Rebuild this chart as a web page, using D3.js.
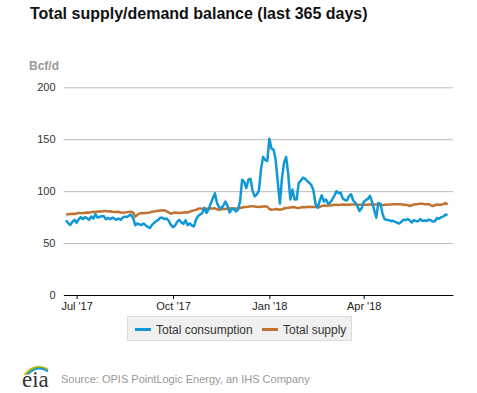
<!DOCTYPE html>
<html>
<head>
<meta charset="utf-8">
<script src="https://cdn.jsdelivr.net/npm/d3@7"></script>
<style>
	body { margin: 0; background: #fff; }
	svg { display: block; font-family: Arial, "Liberation Sans", sans-serif; }
</style>
</head>
<body>
<svg id="svg-port" width="477" height="393"></svg>
<script>
// first day of data and spacing between readings (days)
var startDay = '2017-06-21';
var stepDays = 2;

var seriesNames = ['Total consumption', 'Total supply'];
var seriesColors = ['#0f97d6', '#c07330'];

// Bcf/d, every other day
var consumption = [
	72, 69, 67.5, 70.5, 72.4, 69.5, 72.8, 75, 73, 75,
	74, 72.5, 75.6, 73.5, 77.9, 74.5, 75.3, 75.8, 76, 73,
	74.3, 73, 74.5, 73.5, 72.4, 73.7, 72.4, 74.5, 75.5, 75,
	76.6, 77.3, 74, 67.2, 69, 67.9, 67.5, 68.8, 67, 65.5,
	64.5, 67.5, 69.5, 71, 72.4, 74.5, 74.3, 73, 73.7, 71.2,
	67.5, 65.3, 67, 70.5, 72.4, 69.8, 68.5, 72, 67.2, 69,
	67, 66, 72.5, 76, 77.5, 79, 84, 79, 82.5, 88,
	93, 98, 88.5, 84.5, 83.5, 86, 90, 86, 79.5, 82.5,
	83, 80.5, 82.1, 90, 111, 109, 103, 111, 112, 100,
	95, 97, 100.5, 121, 133, 130, 129, 150.5, 141, 140,
	130, 108.5, 88, 112, 127.5, 133, 116, 92, 101.6, 92,
	92, 108, 110, 113, 112, 110, 108, 106, 101, 88,
	84, 90.5, 96, 90, 92, 88, 89, 92, 95.5, 100,
	98, 98.4, 93, 91.5, 91, 95.2, 97, 91, 88.8, 85.6,
	80.8, 83.5, 89.5, 91.3, 92.5, 95.5, 89.5, 82, 74.5, 88.5,
	88, 78, 73, 72.5, 72.1, 71.2, 71.5, 70.5, 69.6, 68.8,
	70.5, 72.5, 72.1, 73.2, 71.8, 69.8, 72.1, 71, 71, 73.2,
	71.3, 71.8, 71.2, 72.6, 72, 70.8, 71, 74.2, 73.4, 75,
	75.5, 77.5, 76.6
];

var supply = [
	77.5, 77.8, 78, 78.2, 78, 78.5, 78.9, 79, 78.8, 79.3,
	79.5, 79.2, 79.8, 80.2, 80, 80.4, 80.5, 80.3, 80.8, 80.8,
	80.5, 80.6, 80.2, 80, 79.9, 80.1, 79.5, 79.3, 79.5, 79.8,
	80, 80.2, 79.5, 75.5, 77.3, 78.5, 78.9, 78.8, 79, 79.2,
	79.5, 80.2, 80.4, 81, 81.2, 81.5, 81.3, 81.6, 80.4, 79.5,
	78.2, 79, 79.5, 79.2, 78.9, 79.2, 79.5, 79.6, 79.4, 80.2,
	81, 81.5, 82, 83, 83.4, 83, 82.8, 83, 83.4, 83.2,
	83.4, 83.5, 82.5, 82.1, 82.5, 82.8, 82.8, 83.2, 83.4, 83.6,
	83.4, 83.3, 83.4, 83.8, 84.3, 84.7, 84.8, 85, 85.4, 85.4,
	85.2, 84.9, 84.7, 85, 85.3, 85.4, 85, 82.8, 82.1, 82.3,
	82.8, 82.5, 82.1, 82.6, 83.3, 83.8, 84, 84.3, 84.7, 84.5,
	84, 83.8, 84.2, 84.7, 84.5, 84.7, 84.9, 84.7, 84.8, 84.9,
	84.6, 84.8, 85.6, 86.2, 86, 86.3, 86.2, 86.5, 86.8, 86.9,
	86.7, 87, 87.2, 87, 86.8, 86.9, 87.1, 87.2, 87.2, 87,
	86.8, 86.9, 87, 86.9, 86.9, 87.1, 87.2, 87.1, 87.2, 86.9,
	86.5, 86.4, 86.9, 87, 87.2, 87.1, 87.3, 87.5, 87.4, 87.5,
	87.3, 87, 86.9, 86.5, 85.6, 86.4, 87.2, 87.5, 87.6, 87.8,
	87.8, 87.5, 87.4, 87.5, 86.5, 85.6, 86.4, 87.2, 87, 86.9,
	87.5, 88.5, 86.9
];

var yTicks = [0, 50, 100, 150, 200];
var xTicks = ['2017-07-01', '2017-10-01', '2018-01-01', '2018-04-01'];
var xDomain = ['2017-06-18T12:00', '2018-06-25T06:00'];

var parseDay = d3.utcParse('%Y-%m-%d');
var parseTime = d3.utcParse('%Y-%m-%dT%H:%M');

var svg = d3.select('#svg-port');
var plotLeft = 63.5, plotRight = 453, plotTop = 87.3, plotBottom = 295;

var x = d3.scaleUtc()
	.domain(xDomain.map(parseTime))
	.range([plotLeft, plotRight]);
var y = d3.scaleLinear()
	.domain([0, 200])
	.range([plotBottom, plotTop]);

var start = parseDay(startDay);
function toPoints(values) {
	return values.map(function (v, i) {
		return { date: d3.utcDay.offset(start, i * stepDays), value: v };
	});
}

svg.append('text')
	.attr('x', 30).attr('y', 19)
	.attr('font-size', 16).attr('font-weight', 'bold').attr('fill', '#111')
	.text('Total supply/demand balance (last 365 days)');

svg.append('text')
	.attr('x', 29).attr('y', 70)
	.attr('font-size', 12).attr('font-weight', 'bold').attr('fill', '#999')
	.text('Bcf/d');

// gridlines + y labels
var yAxis = d3.axisLeft(y)
	.tickValues(yTicks)
	.tickSize(-(plotRight - plotLeft))
	.tickPadding(8)
	.tickFormat(d3.format('d'));
var yg = svg.append('g')
	.attr('transform', 'translate(' + plotLeft + ',0)')
	.call(yAxis);
yg.select('.domain').remove();
yg.selectAll('.tick line').attr('stroke', '#bdbdbd');
yg.selectAll('.tick text')
	.attr('font-size', 11).attr('fill', '#333')
	.attr('font-family', 'Arial, "Liberation Sans", sans-serif');

// bottom axis
var xAxis = d3.axisBottom(x)
	.tickValues(xTicks.map(parseDay))
	.tickSize(4)
	.tickSizeOuter(0)
	.tickPadding(3)
	.tickFormat(d3.utcFormat("%b '%y"));
var xg = svg.append('g')
	.attr('transform', 'translate(0,' + plotBottom + ')')
	.call(xAxis);
xg.select('.domain').attr('stroke', '#000');
xg.selectAll('.tick line').attr('stroke', '#000');
xg.selectAll('.tick text')
	.attr('font-size', 11).attr('fill', '#222')
	.attr('font-family', 'Arial, "Liberation Sans", sans-serif');

var line = d3.line()
	.x(function (d) { return x(d.date); })
	.y(function (d) { return y(d.value); });

[supply, consumption].forEach(function (vals, k) {
	svg.append('path')
		.datum(toPoints(vals))
		.attr('fill', 'none')
		.attr('stroke', k === 0 ? seriesColors[1] : seriesColors[0])
		.attr('stroke-width', 2.5)
		.attr('stroke-linejoin', 'round')
		.attr('d', line);
});

// legend
var legend = svg.append('g');
legend.append('rect')
	.attr('x', 127.5).attr('y', 316.5)
	.attr('width', 224).attr('height', 24)
	.attr('fill', '#f0f0f0').attr('stroke', '#dcdcdc');
var legendX = [135, 262];
seriesNames.forEach(function (name, i) {
	legend.append('line')
		.attr('x1', legendX[i]).attr('x2', legendX[i] + 16)
		.attr('y1', 329.5).attr('y2', 329.5)
		.attr('stroke', seriesColors[i]).attr('stroke-width', 3);
	legend.append('text')
		.attr('x', legendX[i] + 21).attr('y', 333.5)
		.attr('font-size', 12).attr('fill', '#333')
		.text(name);
});

// eia logo
var logo = svg.append('g');
[['#f2c21b', 0], ['#7cbc3c', 2], ['#1c9ad6', 4]].forEach(function (c) {
	logo.append('path')
		.attr('d', 'M' + (24 + c[1]) + ',' + (375 - c[1] * 0.2) + ' Q' + (34 + c[1]) + ',' + (362 + c[1] * 0.6) + ' ' + 48 + ',' + (369 + c[1] * 0.6))
		.attr('fill', 'none').attr('stroke', c[0]).attr('stroke-width', 1.8);
});
logo.append('text')
	.attr('x', 22).attr('y', 387)
	.attr('font-size', 23).attr('fill', '#333')
	.attr('font-family', '"Liberation Serif", "DejaVu Serif", serif')
	.text('eia');

svg.append('text')
	.attr('x', 61).attr('y', 383)
	.attr('font-size', 11).attr('fill', '#999')
	.text('Source: OPIS PointLogic Energy, an IHS Company');
</script>
</body>
</html>
